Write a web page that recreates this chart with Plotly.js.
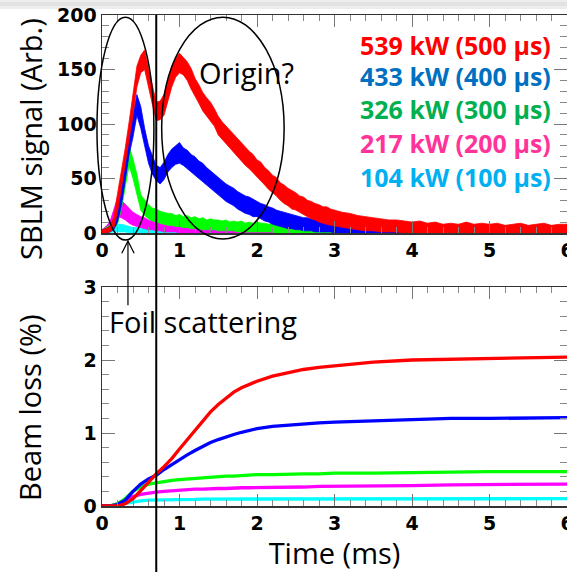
<!DOCTYPE html>
<html>
<head>
<meta charset="utf-8">
<script src="https://cdn.plot.ly/plotly-3.0.1.min.js"></script>
<style>html,body{margin:0;padding:0;background:#fff;}#chart{width:567px;height:572px;}</style>
</head>
<body>
<div id="chart"></div>
<script>
// ---------- DATA ----------
// Fine time grid (ms) for the strong SBLM signals
const tFine = [0,0.05,0.1,0.15,0.2,0.25,0.3,0.35,0.4,0.45,
  0.5,0.55,0.6,0.65,0.7,0.75,0.8,0.85,0.9,0.95,
  1.0,1.05,1.1,1.15,1.2,1.25,1.3,1.35,1.4,1.45,
  1.5,1.55,1.6,1.65,1.7,1.75,1.8,1.85,1.9,1.95,
  2.0,2.05,2.1,2.15,2.2,2.25,2.3,2.35,2.4,2.45,
  2.5,2.55,2.6,2.65,2.7,2.75,2.8,2.85,2.9,2.95,
  3.0,3.1,3.2,3.3,3.4,3.5,3.6,3.7,3.8,3.9,
  4.0,4.1,4.2,4.3,4.4,4.5,4.6,4.7,4.8,4.9,
  5.0,5.1,5.2,5.3,5.4,5.5,5.6,5.7,5.8,5.9,
  6.0];
// Coarse time grid (ms) for the weak SBLM signals
const tCoarse = [0,0.05,0.1,0.15,0.2,0.25,0.3,0.35,0.4,0.45,0.5,0.55,0.6,0.65,0.7,0.75,0.8,0.85,0.9,0.95,1.0,1.05,1.1,1.15,1.2,
  1.3,1.4,1.5,1.6,1.7,1.8,1.9,2.0,2.1,2.2,2.3,2.4,2.5,2.6,2.7,2.8,2.9,3.0,
  3.2,3.4,3.6,3.8,4.0,4.2,4.4,4.6,4.8,5.0,5.2,5.4,5.6,5.8,6.0];

// Noisy signal bands (lower / upper edge)
const red539Lo = [0,0,1,4,19,40,62,85,108,134,
  147,150,134,118,103,104,108,122,134,143,
  147,145,140,132,125,119,112,107,103,98,
  90,86,82,78,74,70,66,62,59,55,
  51,48,44,40,37,34,30,27,25,22,
  21,19,17,15,13,12,10,9,8,7,
  6,5,4,3,2,2,1,1,1,0,
  0,0,0,0,0,0,0,0,0,0,
  0,0,0,0,0,0,0,0,0,0,
  0];
const red539Hi = [3,4,6,14,36,56,78,102,128,153,
  163,168,151,136,120,121,127,140,153,160,
  165,161,157,151,142,136,129,124,120,114,
  107,102,98,95,90,87,82,79,75,72,
  67,65,60,57,53,51,46,44,41,39,
  37,34,33,30,29,27,26,24,24,22,
  21,19,18,16,15,14,13,12,12,11,
  10,11,9,10,8,9,8,10,8,9,
  8,9,7,8,9,7,8,9,7,8,
  8];
const blue433Lo = [0,0,1,3,10,25,46,72,88,108,
  96,80,64,54,48,45,49,56,60,63,
  64,62,59,56,53,50,47,44,41,38,
  35,32,29,27,25,22,20,18,17,15,
  15,13,11,10,8,7,6,5,4,4,
  3,3,2,2,2,1,1,1,1,1,
  0,0,0,0,0,0,0,0,0,0,
  0,0,0,0,0,0,0,0,0,0,
  0,0,0,0,0,0,0,0,0,0,
  0];
const blue433Hi = [3,4,6,12,22,40,63,90,108,127,
  116,96,80,70,62,60,65,72,77,80,
  83,78,76,72,70,66,64,60,57,54,
  51,48,45,43,41,38,36,34,33,31,
  29,27,26,24,23,21,20,19,18,17,
  16,15,14,14,13,12,12,11,11,10,
  10,9,9,8,8,7,8,7,7,6,
  7,6,6,7,6,5,6,7,5,6,
  6,5,6,6,5,6,5,6,6,5,
  6];
const green326Lo = [0,0,1,3,8,22,42,62,50,36,
  21,16,13,11,10,9,8,7,7,6,
  6,5,5,4,4,4,3,3,3,3,
  2,2,2,2,2,1,1,1,1,1,
  1,1,1,1,1,0,0,0,0,0,
  0,0,0,0,0,0,0,0,0,0,
  0,0,0,0,0,0,0,0,0,0,
  0,0,0,0,0,0,0,0,0,0,
  0,0,0,0,0,0,0,0,0,0,
  0];
const green326Hi = [3,5,7,12,22,40,62,80,68,54,
  35,30,26,23,22,20,19,18,18,16,
  17,15,16,14,15,13,14,12,13,12,
  12,11,12,10,11,10,11,9,10,9,
  10,9,9,8,9,8,8,7,8,7,
  7,7,6,7,6,6,6,5,6,5,
  5,5,5,5,4,5,4,5,4,4,
  4,5,4,4,4,5,4,4,4,4,
  4,4,4,5,4,4,4,4,5,4,
  4];
const mag217Lo = [0,1,3,8,15,14,12,9,7,6,5,4,3,3,2,2,1,1,1,1,0,0,0,0,0,
  0,0,0,0,0,0,0,0,0,0,0,0,0,0,0,0,0,0,
  0,0,0,0,0,0,0,0,0,0,0,0,0,0,0];
const mag217Hi = [3,6,10,20,32,30,26,22,19,17,15,14,12,11,10,9,8,8,7,7,6,6,6,5,5,
  5,5,4,4,4,4,4,4,3,3,3,3,3,3,3,3,3,3,
  3,3,3,3,3,3,3,3,3,3,3,3,3,3,3];
const cyan104Lo = [0,0,0,1,1,1,1,0,0,0,0,0,0,0,0,0,0,0,0,0,0,0,0,0,0,
  0,0,0,0,0,0,0,0,0,0,0,0,0,0,0,0,0,0,
  0,0,0,0,0,0,0,0,0,0,0,0,0,0,0];
const cyan104Hi = [2,6,8,8,8,8,7,6,5,5,4,4,4,4,4,3,3,3,3,3,3,3,3,3,3,
  3,3,3,3,3,3,3,3,3,3,3,3,3,3,3,3,3,3,
  3,3,3,3,3,3,3,3,3,3,3,3,3,3,3];

// Cumulative beam loss (%)
const tLoss = [0,0.1,0.2,0.3,0.4,0.5,0.6,0.7,0.8,0.9,1.0,1.1,1.2,1.3,1.4,1.5,1.6,1.7,1.8,1.9,2.0,
  2.2,2.4,2.6,2.8,3.0,3.5,4.0,4.5,5.0,5.5,6.0];
const loss539 = [0,0,0,0.03,0.1,0.21,0.33,0.44,0.54,0.65,0.78,0.91,1.04,1.17,1.29,1.39,1.48,1.56,1.62,1.67,1.71,
  1.78,1.83,1.87,1.9,1.92,1.97,2.0,2.01,2.02,2.03,2.04];
const loss433 = [0,0,0.02,0.08,0.2,0.3,0.37,0.42,0.5,0.57,0.64,0.7,0.76,0.82,0.87,0.91,0.95,0.98,1.01,1.04,1.06,
  1.09,1.11,1.13,1.14,1.15,1.17,1.19,1.2,1.2,1.21,1.21];
const loss326 = [0,0,0.03,0.1,0.2,0.26,0.3,0.32,0.34,0.35,0.36,0.37,0.38,0.39,0.4,0.4,0.41,0.41,0.42,0.42,0.43,
  0.43,0.44,0.44,0.44,0.45,0.45,0.46,0.46,0.47,0.47,0.47];
const loss217 = [0,0,0.03,0.08,0.13,0.16,0.18,0.19,0.2,0.21,0.22,0.22,0.23,0.23,0.24,0.24,0.24,0.25,0.25,0.25,0.25,
  0.26,0.26,0.26,0.27,0.27,0.28,0.28,0.29,0.29,0.3,0.3];
const loss104 = [0,0,0.02,0.04,0.06,0.07,0.08,0.08,0.085,0.09,0.09,0.09,0.09,0.095,0.095,0.095,0.1,0.1,0.1,0.1,0.1,
  0.1,0.1,0.1,0.1,0.1,0.1,0.1,0.1,0.1,0.1,0.1];

const legendLabels = ["539 kW (500 μs)","433 kW (400 μs)","326 kW (300 μs)","217 kW (200 μs)","104 kW (100 μs)"];
const tMark = 0.7; // vertical marker (ms)

// ---------- STYLE ----------
const W = 567, H = 572;
const M = {l:102, r:0, t:15, b:66};
const xRange = [0,6], y1Range = [0,200], y2Range = [0,3];
const y1Dom = [0.556, 1], y2Dom = [0, 0.446];
const lineCols = ['#ff0000','#0000ff','#00ff00','#ff00ff','#00ffff'];
const textCols = ['#ff0000','#0070c0','#00b050','#ff3399','#00b0f0'];

const pw = W - M.l - M.r, ph = H - M.t - M.b;
const xP = t => (t - xRange[0]) / (xRange[1] - xRange[0]);
const y1P = v => y1Dom[0] + (y1Dom[1]-y1Dom[0]) * (v - y1Range[0]) / (y1Range[1]-y1Range[0]);
const y2P = v => y2Dom[0] + (y2Dom[1]-y2Dom[0]) * (v - y2Range[0]) / (y2Range[1]-y2Range[0]);
const pxPix = p => (p - M.l) / pw;        // pixel column -> paper x
const pyPix = p => (H - M.b - p) / ph;    // pixel row -> paper y

function band(t, lo, hi, col) {
  return {
    type:'scatter', mode:'lines', xaxis:'x', yaxis:'y',
    x: t.concat(t.slice().reverse()),
    y: hi.concat(lo.slice().reverse()),
    fill:'toself', fillcolor: col,
    line:{color: col, width: 0.8},
    hoverinfo:'skip', showlegend:false
  };
}
function lossLine(y, col) {
  return {type:'scatter', mode:'lines', xaxis:'x2', yaxis:'y2', x: tLoss, y: y,
    line:{color: col, width: 3.3}, showlegend:false, hoverinfo:'skip'};
}

const data = [
  band(tCoarse, cyan104Lo, cyan104Hi, lineCols[4]),
  band(tCoarse, mag217Lo, mag217Hi, lineCols[3]),
  band(tFine, green326Lo, green326Hi, lineCols[2]),
  band(tFine, blue433Lo, blue433Hi, lineCols[1]),
  band(tFine, red539Lo, red539Hi, lineCols[0]),
  lossLine(loss104, lineCols[4]),
  lossLine(loss217, lineCols[3]),
  lossLine(loss326, lineCols[2]),
  lossLine(loss433, lineCols[1]),
  lossLine(loss539, lineCols[0])
];

const tickFont = {family:'DejaVu Sans, Liberation Sans, Arial', size:19, color:'#000', weight:'bold'};
const textFamily = 'Open Sans, Noto Sans, sans-serif';
const titleFont = {family:textFamily, size:29, color:'#000'};
function xAx(anchor, withTitle) {
  const a = {
    anchor: anchor, range: xRange, domain:[0,1],
    showline:true, linecolor:'#333', linewidth:1.5, mirror:'ticks',
    ticks:'inside', ticklen:12, tickwidth:1, tickcolor:'#777',
    dtick:1, tick0:0, tickfont: tickFont, ticklabeloverflow:'allow',
    showgrid:false, zeroline:false,
    minor:{dtick:0.2, ticks:'inside', ticklen:6, tickwidth:1, tickcolor:'#888', showgrid:false}
  };
  if (withTitle) a.title = {text:'Time (ms)', font:titleFont, standoff:2};
  return a;
}
function yAx(anchor, dom, range, dtick, mdtick) {
  return {
    anchor: anchor, domain: dom, range: range,
    showline:true, linecolor:'#333', linewidth:1.5, mirror:'ticks',
    ticks:'inside', ticklen:13, tickwidth:1, tickcolor:'#777',
    dtick: dtick, tick0:0, tickfont: tickFont, showgrid:false, zeroline:false,
    minor:{dtick: mdtick, ticks:'inside', ticklen:7, tickwidth:1, tickcolor:'#888', showgrid:false}
  };
}

const shapes = [
  // soft grey shadow band at top of the picture
  {type:'rect', xref:'paper', yref:'paper', x0:pxPix(0), x1:pxPix(W+5), y0:pyPix(9), y1:pyPix(0), fillcolor:'#ededed', line:{width:0}, layer:'below'},
  {type:'rect', xref:'paper', yref:'paper', x0:pxPix(0), x1:pxPix(W+5), y0:pyPix(6), y1:pyPix(2), fillcolor:'#e2e2e2', line:{width:0}, layer:'below'},
  // vertical marker line
  {type:'line', xref:'paper', yref:'paper', x0:xP(tMark), x1:xP(tMark), y0:pyPix(H), y1:1, line:{color:'#000', width:2}},
  // ellipses
  {type:'circle', xref:'paper', yref:'paper', x0:xP(-0.065), x1:xP(0.67), y0:y1P(-6.5), y1:y1P(198), line:{color:'#000', width:1.5}},
  {type:'circle', xref:'paper', yref:'paper', x0:xP(0.77), x1:xP(2.35), y0:y1P(-5.5), y1:y1P(198), line:{color:'#000', width:1.5}},
  // arrow from "Foil scattering" up to the ellipse
  {type:'line', xref:'paper', yref:'paper', x0:xP(0.335), x1:xP(0.335), y0:y2P(2.75), y1:y1P(-7.5), line:{color:'#000', width:1.2}},
  {type:'path', xref:'paper', yref:'paper',
    path:'M'+xP(0.255)+','+y1P(-18.5)+' L'+xP(0.335)+','+y1P(-7.5)+' L'+xP(0.415)+','+y1P(-18.5),
    line:{color:'#000', width:1.2}}
];

const legY = [172.5, 144, 114, 83, 51.5];
const annotations = legendLabels.map((s,i) => ({
  xref:'x', yref:'y', x:5.82, y:legY[i], xanchor:'right', yanchor:'middle',
  text:s, showarrow:false, font:{family:textFamily, size:25, color:textCols[i], weight:'bold'}
}));
annotations.push({xref:'x', yref:'y', x:1.22, y:147, xanchor:'left', yanchor:'middle', text:'Origin?', showarrow:false,
  font:{family:textFamily, size:29, color:'#000'}});
annotations.push({xref:'x2', yref:'y2', x:0.07, y:2.53, xanchor:'left', yanchor:'middle', text:'Foil scattering', showarrow:false,
  font:{family:textFamily, size:29, color:'#000'}});
// y-axis titles
annotations.push({xref:'paper', yref:'paper', x:pxPix(30), y:pyPix(139), xanchor:'center', yanchor:'middle', textangle:-90,
  text:'SBLM signal (Arb.)', showarrow:false, font:titleFont});
annotations.push({xref:'paper', yref:'paper', x:pxPix(30), y:pyPix(408), xanchor:'center', yanchor:'middle', textangle:-90,
  text:'Beam loss (%)', showarrow:false, font:titleFont});

const layout = {
  width: W, height: H,
  margin: M,
  paper_bgcolor:'#fff', plot_bgcolor:'#fff',
  showlegend:false,
  xaxis: xAx('y', false),
  xaxis2: xAx('y2', true),
  yaxis: yAx('x', y1Dom, y1Range, 50, 10),
  yaxis2: yAx('x2', y2Dom, y2Range, 1, 0.2),
  shapes: shapes,
  annotations: annotations
};

Plotly.newPlot('chart', data, layout, {displayModeBar:false, staticPlot:true});
</script>
</body>
</html>
